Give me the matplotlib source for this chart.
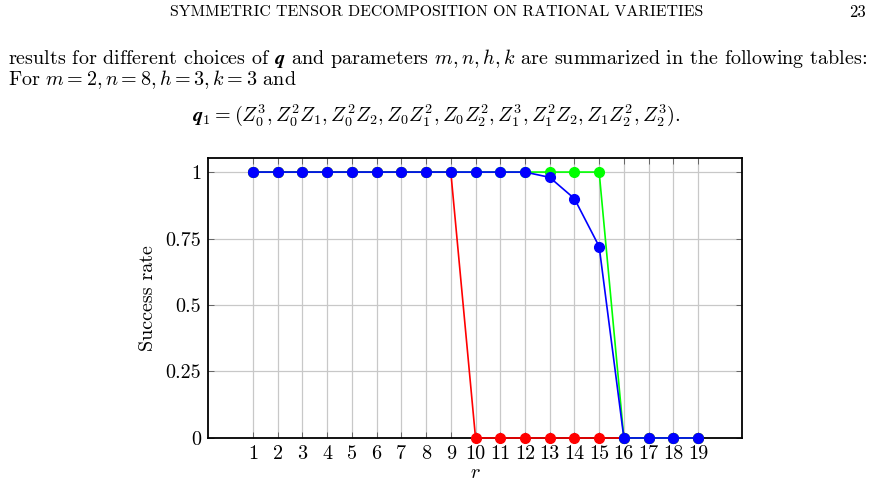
import matplotlib
matplotlib.use('Agg')
import matplotlib.pyplot as plt

plt.rcParams['font.family'] = 'cmr10'
plt.rcParams['mathtext.fontset'] = 'cm'
plt.rcParams['axes.formatter.use_mathtext'] = True

r = list(range(1, 20))
red = [1, 1, 1, 1, 1, 1, 1, 1, 1, 0, 0, 0, 0, 0, 0, 0, 0, 0, 0]
green = [1, 1, 1, 1, 1, 1, 1, 1, 1, 1, 1, 1, 1, 1, 1, 0, 0, 0, 0]
blue = [1, 1, 1, 1, 1, 1, 1, 1, 1, 1, 1, 1, 0.98, 0.9, 0.72, 0, 0, 0, 0]
yticks = [0, 0.25, 0.5, 0.75, 1]
ylabels = ['0', '0.25', '0.5', '0.75', '1']

fig = plt.figure(figsize=(8.73, 4.88), dpi=100)

# page text around the figure
fig.text(0.5, 0.975, 'SYMMETRIC TENSOR DECOMPOSITION ON RATIONAL VARIETIES',
         ha='center', va='center', fontsize=11.4)
fig.text(0.992, 0.975, '23', ha='right', va='center', fontsize=12)
fig.text(0.009, 0.881, r'results for different choices of $\mathbfit{q}$ and parameters '
         r'$m, n, h, k$ are summarized in the following tables:',
         ha='left', va='center', fontsize=14.5)
fig.text(0.009, 0.836, r'For $m=2, n=8, h=3, k=3$ and', ha='left', va='center', fontsize=14.5)
fig.text(0.5, 0.764, r'$\mathbfit{q}_1 = (Z_0^3, Z_0^2Z_1, Z_0^2Z_2, Z_0Z_1^2, Z_0Z_2^2, '
         r'Z_1^3, Z_1^2Z_2, Z_1Z_2^2, Z_2^3).$',
         ha='center', va='center', fontsize=14.5)

ax = fig.add_axes([0.2383, 0.1025, 0.6117, 0.5738])
for ys, c, z in [(red, '#ff0000', 3), (green, '#00ff00', 4), (blue, '#0000ff', 5)]:
    ax.plot(r, ys, color=c, marker='o', markersize=7, linewidth=1.2, zorder=z, clip_on=False)

ax.set_xlim(-0.82, 20.78)
ax.set_ylim(0, 1.053)
ax.set_xticks(r)
ax.set_xticklabels([str(v) for v in r])
ax.set_yticks(yticks)
ax.set_yticklabels(ylabels)
ax.tick_params(direction='in', length=4, width=0.6, labelsize=14.5, top=True, right=True,
               color='#555555', pad=5)
ax.grid(True, color='#c8c8c8', linewidth=0.9)
ax.set_axisbelow(True)
for s in ax.spines.values():
    s.set_linewidth(1.3)
    s.set_zorder(2)
ax.set_xlabel(r'$r$', fontsize=14.5, labelpad=1)
ax.set_ylabel('Success rate', fontsize=14.5, labelpad=6)

fig.savefig('out.png', dpi=100)
